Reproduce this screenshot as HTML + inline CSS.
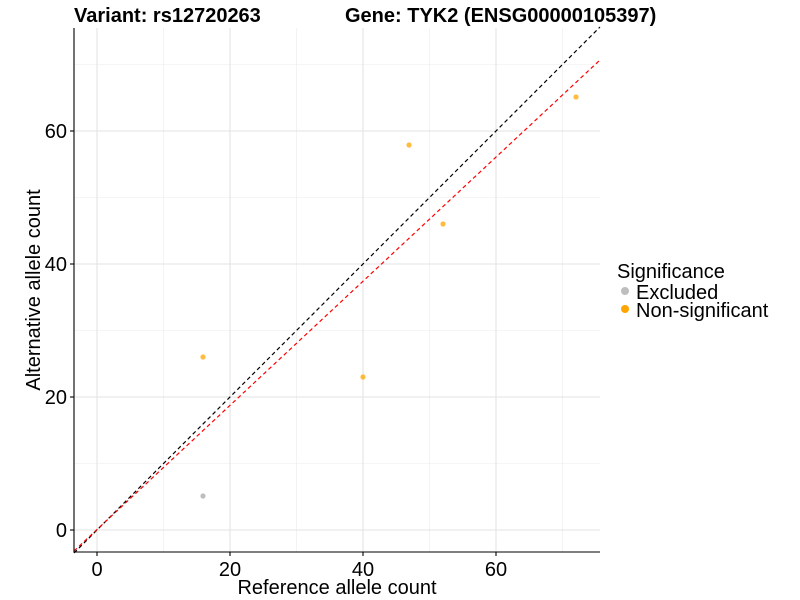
<!DOCTYPE html>
<html><head><meta charset="utf-8"><style>
html,body{margin:0;padding:0;background:#fff;}
svg{display:block;font-family:"Liberation Sans",Arial,sans-serif;}
</style></head><body>
<svg width="800" height="600" viewBox="0 0 800 600">
<rect width="800" height="600" fill="#fff"/>
<g stroke="#ebebeb" stroke-width="0.6">
<line x1="163.5" y1="28" x2="163.5" y2="552"/>
<line x1="296.5" y1="28" x2="296.5" y2="552"/>
<line x1="429.5" y1="28" x2="429.5" y2="552"/>
<line x1="562.5" y1="28" x2="562.5" y2="552"/>
<line x1="74" y1="463.5" x2="600" y2="463.5"/>
<line x1="74" y1="330.5" x2="600" y2="330.5"/>
<line x1="74" y1="197.5" x2="600" y2="197.5"/>
<line x1="74" y1="64.5" x2="600" y2="64.5"/>
</g>
<g stroke="#e3e3e3" stroke-width="1.1">
<line x1="97" y1="28" x2="97" y2="552"/>
<line x1="230" y1="28" x2="230" y2="552"/>
<line x1="363" y1="28" x2="363" y2="552"/>
<line x1="496" y1="28" x2="496" y2="552"/>
<line x1="74" y1="530" x2="600" y2="530"/>
<line x1="74" y1="397" x2="600" y2="397"/>
<line x1="74" y1="264" x2="600" y2="264"/>
<line x1="74" y1="131" x2="600" y2="131"/>
</g>
<line x1="74" y1="553" x2="600" y2="27" stroke="#000" stroke-width="1.2" stroke-dasharray="4,3"/>
<line x1="74" y1="551" x2="600" y2="60" stroke="#ff0000" stroke-width="1.2" stroke-dasharray="4,3"/>
<g fill="#ffa500" fill-opacity="0.75">
<circle cx="203" cy="357" r="2.6"/>
<circle cx="363" cy="377" r="2.6"/>
<circle cx="409" cy="145" r="2.6"/>
<circle cx="443" cy="224" r="2.6"/>
<circle cx="576" cy="97" r="2.6"/>
</g>
<circle cx="203" cy="496" r="2.6" fill="#bebebe"/>
<line x1="74" y1="28" x2="74" y2="552.5" stroke="#000" stroke-width="1.1"/>
<line x1="73.5" y1="552" x2="600" y2="552" stroke="#000" stroke-width="1.1"/>
<g stroke="#000" stroke-width="1.1">
<line x1="97" y1="552" x2="97" y2="556"/><line x1="230" y1="552" x2="230" y2="556"/>
<line x1="363" y1="552" x2="363" y2="556"/><line x1="496" y1="552" x2="496" y2="556"/>
<line x1="70" y1="530" x2="74" y2="530"/><line x1="70" y1="397" x2="74" y2="397"/>
<line x1="70" y1="264" x2="74" y2="264"/><line x1="70" y1="131" x2="74" y2="131"/>
</g>
<g font-size="20" fill="#000" text-anchor="middle">
<text x="97" y="576">0</text><text x="230" y="576">20</text>
<text x="363" y="576">40</text><text x="496" y="576">60</text>
</g>
<g font-size="20" fill="#000" text-anchor="end">
<text x="67" y="537">0</text><text x="67" y="404">20</text>
<text x="67" y="271">40</text><text x="67" y="138">60</text>
</g>
<text x="337" y="594" font-size="20" text-anchor="middle">Reference allele count</text>
<text transform="translate(40,290) rotate(-90)" font-size="20" text-anchor="middle">Alternative allele count</text>
<text x="74" y="22" font-size="20" font-weight="bold">Variant: rs12720263</text>
<text x="345" y="22" font-size="20" font-weight="bold">Gene: TYK2 (ENSG00000105397)</text>
<text x="617" y="278" font-size="20">Significance</text>
<circle cx="625" cy="291" r="4" fill="#bebebe"/>
<text x="636" y="299" font-size="20">Excluded</text>
<circle cx="625" cy="309" r="4" fill="#ffa500"/>
<text x="636" y="317" font-size="20">Non-significant</text>
</svg>
</body></html>
